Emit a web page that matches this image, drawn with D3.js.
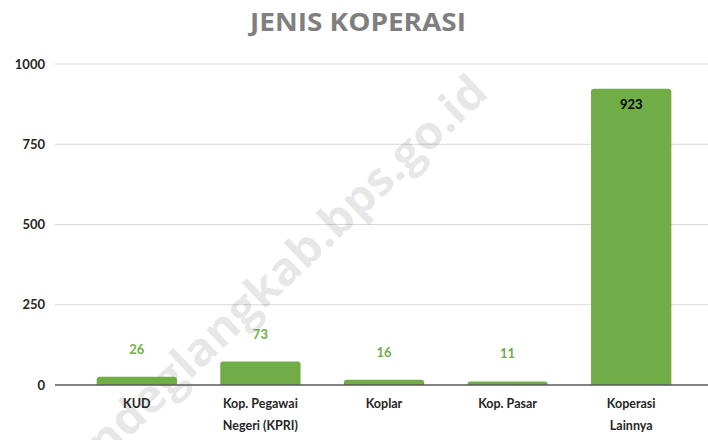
<!DOCTYPE html>
<html><head><meta charset="utf-8">
<script src="https://cdn.jsdelivr.net/npm/d3@7"></script>
<style>body{margin:0;background:#fff}svg{display:block}</style>
</head><body>
<svg id="c" width="708" height="440"></svg>
<script>
const categories = [["KUD"], ["Kop. Pegawai", "Negeri (KPRI)"], ["Koplar"], ["Kop. Pasar"], ["Koperasi", "Lainnya"]];
const values = [26, 73, 16, 11, 923];
const yTicks = [0, 250, 500, 750, 1000];
const title = "JENIS KOPERASI";
const watermark = "pandeglangkab.bps.go.id";

const svg = d3.select("#c");
const W = 708, H = 440;
const plot = {left: 55, right: 708, top: 64, bottom: 385};

const x = d3.scaleBand().domain(d3.range(values.length)).range([75, 693]).paddingInner(0.35).paddingOuter(0.175);
const y = d3.scaleLinear().domain([0, 1000]).range([plot.bottom, plot.top]);

// title
svg.append("text").attr("x", 358).attr("y", 31).attr("text-anchor", "middle")
  .attr("font-family", "Open Sans, sans-serif").attr("font-weight", "bold").attr("font-size", 25)
  .attr("fill", "#7f7f7f").attr("textLength", 216).attr("lengthAdjust", "spacingAndGlyphs").text(title);

// gridlines
svg.append("g").selectAll("line").data(yTicks.filter(d => d > 0)).join("line")
  .attr("x1", plot.left).attr("x2", plot.right).attr("y1", d => y(d)).attr("y2", d => y(d))
  .attr("stroke", "#d9d9d9").attr("stroke-width", 1.2);

// y axis labels
const yAxis = svg.append("g").attr("transform", `translate(${plot.left - 10},0)`)
  .call(d3.axisLeft(y).tickValues(yTicks).tickFormat(d3.format("d")).tickSize(0).tickPadding(0));
yAxis.select(".domain").remove();
yAxis.selectAll("text").attr("font-family", "Lato, sans-serif").attr("font-size", 13)
  .attr("fill", "#262626").attr("font-weight", "bold");

// watermark
svg.append("text").attr("transform", "translate(264,285) rotate(-43.5)")
  .attr("text-anchor", "middle").attr("dominant-baseline", "central")
  .attr("font-family", "Open Sans, sans-serif").attr("font-weight", "bold").attr("font-size", 46)
  .attr("fill", "#000").attr("fill-opacity", 0.11)
  .attr("textLength", 590).attr("lengthAdjust", "spacingAndGlyphs").text(watermark);

// bars with slightly rounded top corners
const r = 3;
svg.append("g").selectAll("path").data(values).join("path")
  .attr("fill", "#70ad47")
  .attr("d", (d, i) => {
    const x0 = x(i), x1 = x(i) + x.bandwidth(), yt = y(d), yb = y(0);
    const rr = Math.min(r, (yb - yt));
    return `M${x0},${yb}V${yt + rr}Q${x0},${yt} ${x0 + rr},${yt}H${x1 - rr}Q${x1},${yt} ${x1},${yt + rr}V${yb}Z`;
  });

// baseline
svg.append("line").attr("x1", plot.left).attr("x2", plot.right).attr("y1", y(0)).attr("y2", y(0))
  .attr("stroke", "#595959").attr("stroke-width", 1.5);

// value labels
svg.append("g").selectAll("text").data(values).join("text")
  .attr("x", (d, i) => x(i) + x.bandwidth() / 2)
  .attr("y", d => d > 500 ? y(d) + 15 : y(d) - 28)
  .attr("text-anchor", "middle").attr("dominant-baseline", "central")
  .attr("font-family", "Lato, sans-serif").attr("font-weight", "bold").attr("font-size", 13)
  .attr("fill", d => d > 500 ? "#000" : "#70ad47").text(d => d);

// category labels
const cg = svg.append("g").selectAll("text").data(categories).join("text")
  .attr("x", (d, i) => x(i) + x.bandwidth() / 2).attr("y", 408)
  .attr("text-anchor", "middle")
  .attr("font-family", "Lato, sans-serif").attr("font-weight", "bold").attr("font-size", 12.5)
  .attr("fill", "#262626");
cg.selectAll("tspan").data(d => d).join("tspan")
  .attr("x", function() { return this.parentNode.getAttribute("x"); })
  .attr("dy", (d, j) => j ? 22 : 0).text(d => d);
</script>
</body></html>
